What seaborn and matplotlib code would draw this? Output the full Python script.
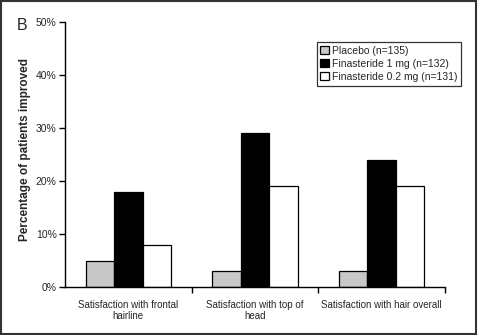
import matplotlib
matplotlib.use("Agg")
import matplotlib.pyplot as plt
from matplotlib.patches import Rectangle
from matplotlib.ticker import FuncFormatter, FixedLocator
import seaborn as sns
import pandas as pd

# Outcome categories and percentage of patients improved per treatment arm
categories = ["Satisfaction with frontal\nhairline",
              "Satisfaction with top of\nhead",
              "Satisfaction with hair overall"]
groups = ["Placebo (n=135)", "Finasteride 1 mg (n=132)", "Finasteride 0.2 mg (n=131)"]
placebo = [5, 3, 3]
fin_1mg = [18, 29, 24]
fin_02mg = [8, 19, 19]
yticks = [0, 10, 20, 30, 40, 50]

rows = []
for g, vals in zip(groups, [placebo, fin_1mg, fin_02mg]):
    for c, v in zip(categories, vals):
        rows.append({"category": c, "group": g, "value": v})
df = pd.DataFrame(rows)

sns.set_style("white")
plt.rcParams["font.family"] = ["Liberation Sans", "DejaVu Sans"]

fig = plt.figure(figsize=(4.81, 3.35), dpi=100)
ax = fig.add_axes([65 / 481, 48 / 335, 380 / 481, 265 / 335])

palette = {groups[0]: "#c8c8c8", groups[1]: "#000000", groups[2]: "#ffffff"}
sns.barplot(data=df, x="category", y="value", hue="group", order=categories,
            hue_order=groups, palette=palette, width=0.675, saturation=1,
            edgecolor="black", linewidth=0.9, ax=ax)

ax.set_xlim(-0.5, 2.5)
ax.set_ylim(0, 50)
ax.set_yticks(yticks)
ax.yaxis.set_major_formatter(FuncFormatter(lambda v, p: f"{int(v)}%"))
ax.tick_params(axis="y", direction="out", length=4, width=1, labelsize=7.5, pad=2,
               left=True, color="black")
ax.tick_params(axis="x", which="major", length=0, labelsize=7, pad=9)
ax.xaxis.set_minor_locator(FixedLocator([0.5, 1.5, 2.5]))
ax.tick_params(axis="x", which="minor", direction="out", length=4, width=1,
               bottom=True, color="black")
ax.set_xlabel("")
ax.set_ylabel("Percentage of patients improved", fontsize=8.5, fontweight="bold")
ax.yaxis.set_label_coords(-0.09, 0.517)

for side in ["top", "right"]:
    ax.spines[side].set_visible(False)
for side in ["left", "bottom"]:
    ax.spines[side].set_color("black")
    ax.spines[side].set_linewidth(1)

leg = ax.legend(loc="upper right", bbox_to_anchor=(461 / 481, 1 - 42 / 335),
                bbox_transform=fig.transFigure, fontsize=7.5, frameon=True,
                fancybox=False, edgecolor="black", handlelength=0.8,
                handleheight=0.8, handletextpad=0.3, borderpad=0.35,
                labelspacing=0.3, borderaxespad=0)
leg.get_frame().set_linewidth(0.9)

fig.text(17 / 481, 1 - 30 / 335, "B", fontsize=11.5, va="baseline", ha="left")

fig.patches.append(Rectangle((0.002, 0.004), 0.988, 0.992, transform=fig.transFigure,
                             fill=False, edgecolor="#333333", linewidth=1.5))

fig.savefig("out.png", dpi=100)
